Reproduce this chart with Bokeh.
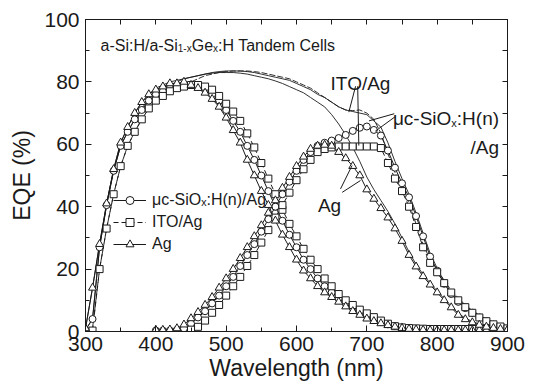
from bokeh.plotting import figure
from bokeh.models import LinearAxis, SingleIntervalTicker, FixedTicker, Range1d, Legend, LegendItem
from bokeh.core.properties import value
from bokeh.embed import file_html
from bokeh.resources import INLINE

NaN = float("nan")
FONT = "Liberation Sans"
INK = "#1a1a1a"

# ---------------- data ----------------
wavelength = list(range(300, 901, 10))          # top cell & sum curves
wavelength_bottom = list(range(400, 901, 10))   # bottom cell curves

top_ag = [1, 14, 28, 41, 52, 60.5, 65.5, 70, 73.5, 76,
          77.5, 78.5, 79.5, 79.5, 80, 79, 78, 76.5, 74.5, 72,
          68.5, 64.5, 60.5, 55, 50, 45, 40.5, 35.5, 31, 27,
          23, 19.5, 17, 14.5, 12.5, 11, 9.5, 8, 6.5, 5.3,
          4.1, 3.3, 2.6, 2, 1.5, 1.1, 0.8, 0.6, 0.5, 0.4,
          0.4, 0.4, 0.4, 0.4, 0.4, 0.4, 0.4, 0.4, 0.4, 0.4, 0.4]
top_mc = [0.5, 4, 27, 40.5, 51.5, 59.5, 64, 68, 71, 74,
          76, 77, 78, 78.5, 79, 79, 78.5, 77.5, 76, 74,
          71, 67.5, 64, 59.5, 55, 50, 45, 40, 35.5, 31,
          27, 23, 20, 17, 14.5, 12.5, 10.5, 9, 7.5, 6,
          5, 4, 3, 2.3, 1.7, 1.3, 1, 0.8, 0.7, 0.6,
          0.6, 0.6, 0.6, 0.6, 0.6, 0.6, 0.6, 0.6, 0.6, 0.6, 0.6]
top_ito = [NaN, 0.3, 20, 33, 44, 53, 59.5, 64, 68, 71.5,
           74, 75.5, 77, 78, 78.5, 79, 79, 78.5, 77.5, 75.5,
           73, 70.5, 67.5, 63.5, 59, 54, 49, 44, 39, 34.5,
           30.5, 26.5, 23, 20, 17, 14.5, 12, 10, 8.5, 7,
           5.8, 4.6, 3.5, 2.5, 1.7, 1.3, 1.1, 1, 0.9, 0.8,
           0.8, 0.8, 0.8, 0.8, 0.8, 0.8, 0.8, 0.8, 0.8, 0.8, 0.8]

bot_ag = [0.5, 0.5, 0.6, 1, 2.2, 4.2, 6.2, 8.5, 11, 14,
          17, 20, 23.5, 27, 30.5, 34, 38, 42, 46, 49.5,
          53, 56, 58.5, 59.5, 59.8, 59.5, 57.5, 55.5, 53, 50,
          45.5, 42.5, 39.5, 36.5, 33, 29, 24.5, 20.8, 17.7, 15,
          12.5, 10, 7.7, 5.3, 3.9, 2.9, 2.1, 1.5, 1.1, 0.8, 0.6]
bot_mc = [0.3, 0.3, 0.3, 0.5, 1, 2.5, 4.5, 6.5, 9, 11.5,
          14.5, 17.5, 21, 24.5, 28, 32, 36, 40, 44, 48,
          51.5, 55, 57.5, 59.5, 60.5, 61.2, 62, 63, 64.3, 65.3,
          65.7, 64.6, 62.8, 58, 52.5, 47.5, 43, 37, 30.5, 24,
          19.5, 15.3, 12, 9.5, 7.5, 6, 4.5, 3.2, 2.2, 1.3, 0.8]
bot_ito = [NaN, NaN, NaN, NaN, NaN, 0.6, 1.5, 3.5, 6, 8.5,
           11.5, 14.5, 17.5, 21, 24.5, 28.5, 32.5, 36.5, 40.5, 44.5,
           48.5, 52, 55, 57.5, 58.5, 59, 59.3, 59.3, 59.3, 59.3,
           59.3, 59.3, 58.8, 54, 49, 45, 40, 33.5, 27, 22,
           19, 15.5, 12.5, 10, 7.8, 6, 4.5, 3.3, 2.3, 1.6, 1]

sum_mc = [0.5, 4, 27, 40.5, 51.5, 59.5, 64, 68, 71.5, 74.5,
          76.5, 78, 79, 80, 81, 81.5, 82, 82.5, 83, 83.3,
          83.5, 83.5, 83.5, 83.3, 83, 82.5, 82, 81.5, 81, 80.5,
          79.5, 78.5, 77.5, 76, 75, 73.5, 72, 71, 70.5, 70,
          69.5, 67.5, 65.5, 60.5, 54.5, 49, 44, 38, 31.5, 25,
          20.3, 16, 12.6, 10, 8, 6.5, 5, 3.7, 2.7, 1.8, 1.3]
sum_ito = [0, 1, 20, 33, 44, 53, 59.5, 64, 68, 71.5,
           74, 75.5, 77, 78, 79, 80, 81, 82, 82.5, 83,
           83.3, 83.5, 83.5, 83.5, 83.3, 83, 82.5, 82, 81.5, 81,
           80, 79, 78, 76.5, 75, 73.5, 72, 71, 70.8, 71,
           70, 68, 63.5, 57, 51, 46.5, 41, 34.5, 28, 23,
           20, 16.3, 13.2, 10.7, 8.5, 6.7, 5.2, 4, 3, 2.3, 1.7]
sum_ag = [1, 14, 28, 41, 52, 60.5, 65.5, 70, 73.5, 76,
          78, 79, 80, 80.5, 81, 81.5, 82, 82.5, 82.8, 83,
          83, 83, 82.8, 82.5, 82, 81.5, 81, 80.3, 79.5, 78.5,
          77.5, 76.5, 75, 73.5, 72, 69.5, 66.5, 63, 59, 54.5,
          49.5, 45.5, 42, 38.5, 34.5, 30, 25.5, 21.5, 18.3, 15.5,
          13, 10.5, 8.2, 5.8, 4.3, 3.2, 2.4, 1.8, 1.4, 1.1, 0.9]

series_labels = ["μc-SiOₓ:H(n)/Ag", "ITO/Ag", "Ag"]
title_pieces = ["a-Si:H/a-Si", "1-x", "Ge", "x", ":H Tandem Cells"]

# tick positions for the label-free top and right axes
top_ticks = list(range(300, 901, 50))
right_ticks = list(range(0, 101, 10))

# annotation anchors (data units) and leader lines
title_xy = (321.3, 91.7)
ito_label_xy = (691, 79.6)
mc_label_xy = (888, 68.2)
mc_label2_xy = (888, 58.9)
ag_label_xy = (647, 40.4)
leader_x0 = [684, 687, 739, 740, 662.6, 665]
leader_y0 = [78.6, 78.6, 69.8, 68.8, 45.7, 44.6]
leader_x1 = [674.4, 688.6, 703, 712, 679, 691]
leader_y1 = [70.3, 59.6, 67.5, 64.2, 53.2, 48.4]

# ---------------- figure ----------------
p = figure(width=533, height=388, x_range=Range1d(300, 900), y_range=Range1d(0, 100),
           output_backend="svg", toolbar_location=None,
           min_border_left=85, min_border_right=26, min_border_top=19, min_border_bottom=57,
           x_axis_label="Wavelength (nm)", y_axis_label="EQE (%)")
p.grid.visible = False
p.outline_line_color = INK
p.outline_line_width = 1
p.background_fill_color = "white"
p.border_fill_color = "white"


def style(ax):
    ax.axis_line_color = INK
    ax.axis_line_width = 1
    ax.major_tick_line_color = INK
    ax.minor_tick_line_color = INK
    ax.major_tick_in = 6
    ax.major_tick_out = 0
    ax.minor_tick_in = 4
    ax.minor_tick_out = 0
    ax.major_label_text_font = FONT
    ax.major_label_text_font_size = "21px"
    ax.major_label_text_color = INK
    ax.axis_label_text_font = FONT
    ax.axis_label_text_font_size = "23px"
    ax.axis_label_text_font_style = "normal"
    ax.axis_label_text_color = INK


p.xaxis.ticker = SingleIntervalTicker(interval=100, num_minor_ticks=2)
p.yaxis.ticker = SingleIntervalTicker(interval=20, num_minor_ticks=2)
style(p.xaxis[0])
style(p.yaxis[0])
p.xaxis.major_label_standoff = 5
p.xaxis.axis_label_standoff = 1
p.yaxis.major_label_standoff = 6
p.yaxis.axis_label_standoff = 6

# top/right axes: only (minor) tick marks, no labels at all
for loc, ticks in (("above", top_ticks), ("right", right_ticks)):
    ax = LinearAxis(ticker=FixedTicker(ticks=[], minor_ticks=ticks))
    style(ax)
    ax.minor_tick_in = 5
    ax.major_label_standoff = 0
    p.add_layout(ax, loc)

# sum curves (no markers)
p.line(wavelength, sum_mc, line_color=INK, line_width=0.9)
p.line(wavelength, sum_ito, line_color=INK, line_width=0.9, line_dash="6 2")
p.line(wavelength, sum_ag, line_color=INK, line_width=0.9)

# marker curves
renderers = {}
specs = [("mc", top_mc, bot_mc, "circle", 7, "solid"),
         ("ito", top_ito, bot_ito, "square", 7, "5 3"),
         ("ag", top_ag, bot_ag, "triangle", 8, "solid")]
for key, top, bot, marker, size, dash in specs:
    lt = p.line(wavelength, top, line_color=INK, line_width=1, line_dash=dash)
    p.line(wavelength_bottom, bot, line_color=INK, line_width=1, line_dash=dash)
    renderers[key] = [lt]
for key, top, bot, marker, size, dash in specs:
    st = p.scatter(wavelength, top, marker=marker, size=size, fill_color="white",
                   line_color=INK, line_width=1)
    p.scatter(wavelength_bottom, bot, marker=marker, size=size, fill_color="white",
              line_color=INK, line_width=1)
    renderers[key].append(st)

legend = Legend(items=[LegendItem(label=series_labels[0], renderers=renderers["mc"]),
                       LegendItem(label=series_labels[1], renderers=renderers["ito"]),
                       LegendItem(label=series_labels[2], renderers=renderers["ag"])],
                location=(28, 77), orientation="vertical",
                glyph_width=33, glyph_height=20, label_height=20, spacing=2,
                label_standoff=6, padding=0, margin=0,
                border_line_alpha=0, background_fill_alpha=0,
                label_text_font=FONT, label_text_font_size="16px", label_text_color=INK)
p.add_layout(legend, "center")


def piece(xy, text, size, dx=0, dy=0, align="left"):
    p.text(x=[xy[0]], y=[xy[1]], text=[text], x_offset=dx, y_offset=dy,
           text_font=value(FONT), text_font_size=f"{size}px", text_color=INK,
           text_align=align, text_baseline="alphabetic")


# title with subscripts
piece(title_xy, title_pieces[0], 16, 0)
piece(title_xy, title_pieces[1], 10, 77.3, 3.5)
piece(title_xy, title_pieces[2], 16, 91.2)
piece(title_xy, title_pieces[3], 10, 112.5, 3.5)
piece(title_xy, title_pieces[4], 16, 117.5)

# annotations
piece(ito_label_xy, "ITO/Ag", 19, 0, 0, "center")
piece(mc_label_xy, ":H(n)", 19, 0, 0, "right")
piece(mc_label_xy, "x", 11, -42.2, 4, "right")
piece(mc_label_xy, "μc-SiO", 19, -47.7, 0, "right")
piece(mc_label2_xy, "/Ag", 19, 0, 0, "right")
piece(ag_label_xy, "Ag", 19, 0, 0, "center")

p.segment(leader_x0, leader_y0, leader_x1, leader_y1, line_color=INK, line_width=1)

open("out.html", "w").write(file_html(p, INLINE))
